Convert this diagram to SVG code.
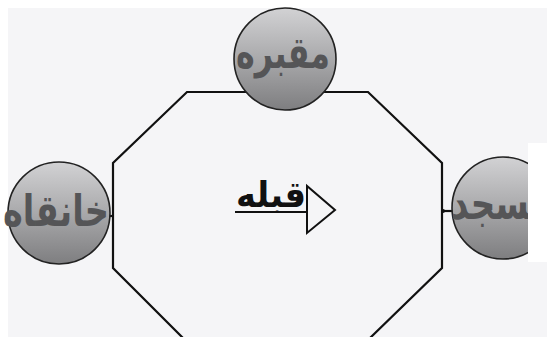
<svg xmlns="http://www.w3.org/2000/svg" width="547" height="337" viewBox="0 0 547 337">
<style>
.ln{fill:none;stroke:#111;stroke-width:2.2;stroke-linejoin:miter}
.circ{stroke:#222;stroke-width:1.6}
.ct{font-family:"DejaVu Sans",sans-serif;font-size:44px;font-weight:bold;fill:#555557;text-anchor:middle}
</style>
<defs>
<linearGradient id="g" x1="0" y1="0" x2="0" y2="1">
<stop offset="0" stop-color="#d2d2d4"/>
<stop offset="0.5" stop-color="#a9a9ab"/>
<stop offset="1" stop-color="#7e7e80"/>
</linearGradient>
<clipPath id="cr"><rect x="0" y="0" width="528" height="337"/></clipPath>
</defs>
<rect width="547" height="337" fill="#ffffff"/>
<rect x="8" y="8" width="539" height="329" fill="#f5f5f7"/>
<g id="octagon">
<polyline class="ln" points="183,338 113,268 113,163 187,92 368,92 442,163 442,268 370,338"/>
</g>
<g id="connectors">
<line class="ln" x1="107" y1="216" x2="113" y2="216"/>
<line class="ln" x1="442" y1="211" x2="453" y2="211"/>
<circle cx="443" cy="211" r="2" fill="#111"/>
</g>
<g id="maqbareh">
<circle class="circ" cx="285" cy="59" r="51" fill="url(#g)"/>
<text class="ct" x="283" y="68" textLength="94" lengthAdjust="spacingAndGlyphs">مقبره</text>
</g>
<g id="khanqah">
<circle class="circ" cx="59" cy="213" r="51" fill="url(#g)"/>
<text class="ct" x="56" y="226" textLength="106" lengthAdjust="spacingAndGlyphs">خانقاه</text>
</g>
<g id="masjed" clip-path="url(#cr)">
<circle class="circ" cx="503" cy="208" r="51" fill="url(#g)"/>
<text class="ct" x="501" y="219" textLength="100" lengthAdjust="spacingAndGlyphs">مسجد</text>
</g>
<rect x="528" y="143" width="19" height="119" fill="#ffffff"/>
<g id="qibla">
<text x="271" y="207" font-family="DejaVu Sans,sans-serif" font-size="36" font-weight="bold" fill="#111" text-anchor="middle" textLength="70" lengthAdjust="spacingAndGlyphs">قبله</text>
<line x1="235" y1="212" x2="308" y2="212" stroke="#111" stroke-width="2.2"/>
<polygon points="307,186 307,233 335,210" fill="none" stroke="#111" stroke-width="2"/>
</g>
</svg>
